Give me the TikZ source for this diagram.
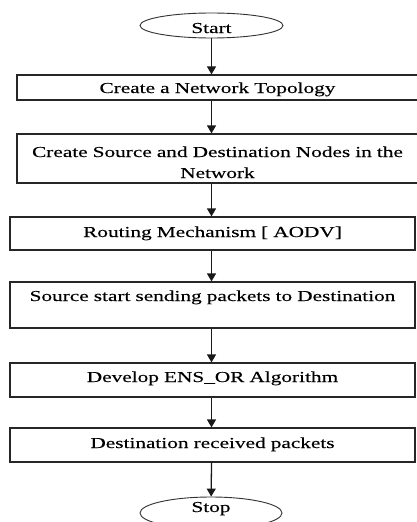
\documentclass[tikz,border=0pt]{standalone}
\usepackage{fontspec}
\setmainfont{Liberation Serif}[FakeStretch=1.4, FakeBold=0.2]
\usetikzlibrary{arrows.meta,shapes.geometric}
\tikzset{
	stepbox/.style={draw=black!85, line width=0.42mm, rectangle, inner sep=0pt, align=center},
	endbox/.style={draw=black!80, line width=0.32mm, ellipse, inner sep=0pt},
	flow/.style={line width=0.45mm, color=black!90, -{Triangle[width=9pt,length=8pt]}}
}

\begin{document}
\begin{tikzpicture}[x=1pt, y=-1pt, font=\fontsize{15.2pt}{21pt}\selectfont]
	%%%%% START %%%%%
	\useasboundingbox (0, 0) rectangle (417, 522);
	
	\node[endbox, minimum width=143pt, minimum height=25pt, text height=15pt, text depth=0pt] (start) at (211.5, 25.5) {Start};
	
	\node[stepbox, text width=401pt, text height=18pt, text depth=7pt] (topo) at (217.5, 87.5) {Create a Network Topology};
	\node[stepbox, text width=401pt, text height=23pt, text depth=26pt] (nodes) at (217.5, 158.5) {Create Source and Destination Nodes in the\\Network};
	\node[stepbox, text width=405pt, text height=20pt, text depth=13pt] (aodv) at (212.5, 233.5) {Routing Mechanism [ AODV]};
	\node[stepbox, text width=405pt, text height=19pt, text depth=27pt] (send) at (212.5, 305) {Source start sending packets to Destination};
	\node[stepbox, text width=405pt, text height=19pt, text depth=15pt] (ensor) at (212.5, 380) {Develop ENS\_OR Algorithm};
	\node[stepbox, text width=405pt, text height=20pt, text depth=14pt] (recv) at (212.5, 445) {Destination received packets};
	
	% runs off the lower edge
	\node[endbox, minimum width=142pt, minimum height=32pt, text height=4pt, text depth=6pt] (stop) at (211, 513) {Stop};
	
	% arrows all run down the column under Start
	\draw[flow] (start) -- (start |- topo.north);
	\draw[flow] (start |- topo.south) -- (start |- nodes.north);
	\draw[flow] (start |- nodes.south) -- (start |- aodv.north);
	\draw[flow] (start |- aodv.south) -- (start |- send.north);
	\draw[flow] (start |- send.south) -- (start |- ensor.north);
	\draw[flow] (start |- ensor.south) -- (start |- recv.north);
	\draw[flow] (start |- recv.south) -- (stop);
	
	%%%%% END %%%%%
\end{tikzpicture}
\end{document}
